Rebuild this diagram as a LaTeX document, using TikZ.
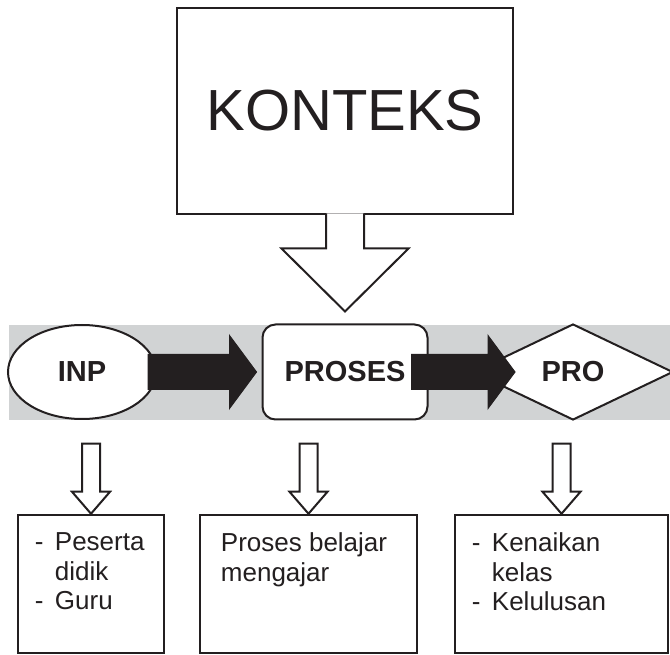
\documentclass[tikz,border=0pt]{standalone}
\usepackage{fontspec}
\setmainfont{Liberation Sans}
\usetikzlibrary{positioning,calc,shapes.geometric}

\definecolor{bandgray}{RGB}{209,211,212}
\definecolor{ink}{RGB}{35,31,32}

\newcommand{\downblock}[6][]{%
  \filldraw[#1] ($(#2)+(-#4,0)$) -- ($(#3)+(-#4,#6)$) -- ($(#3)+(-#5,#6)$) -- (#3)
    -- ($(#3)+(#5,#6)$) -- ($(#3)+(#4,#6)$) -- ($(#2)+(#4,0)$) -- cycle;
}
\newcommand{\rightblock}[6][]{%
  \filldraw[#1] ($(#2)+(0,#4)$) -- ($(#3)+(-#6,#4)$) -- ($(#3)+(-#6,#5)$) -- (#3)
    -- ($(#3)+(-#6,-#5)$) -- ($(#3)+(-#6,-#4)$) -- ($(#2)+(0,-#4)$) -- cycle;
}

\begin{document}
\begin{tikzpicture}[x=1pt,y=1pt,line join=miter]
    \tikzstyle{kbox}=[draw=ink, fill=white, line width=2pt, minimum width=336pt, minimum height=206pt, inner sep=0pt]
    \tikzstyle{fnode}=[draw=ink, fill=white, line width=2pt, inner sep=0pt, font=\fontsize{29pt}{34pt}\selectfont\bfseries, text=ink]
    \tikzstyle{lbox}=[draw=ink, fill=white, line width=2.5pt, minimum height=138pt, inner sep=0pt]
    \tikzstyle{ltext}=[inner sep=0pt, align=left, text=ink, font=\fontsize{26pt}{29.5pt}\selectfont]
    \tikzstyle{barr}=[draw=ink, fill=ink, line width=1pt]
    \tikzstyle{warr}=[draw=ink, fill=white, line width=2pt]

    \useasboundingbox (0,0) rectangle (670,654);
    \clip (0,0) rectangle (670,654);

    \fill[bandgray] (9,234) rectangle (670,329);

    \node[fnode, ellipse, minimum width=148pt, minimum height=94pt] (inp) at (82,282) {INP};
    \node[fnode, rectangle, rounded corners=13pt, minimum width=165pt, minimum height=95pt] (proses) at (345,282) {PROSES};
    \node[fnode, diamond, minimum width=200pt, minimum height=96pt] (pro) at (573,282) {PRO};
    \node[kbox, font=\fontsize{58pt}{60pt}\selectfont, text=ink] (konteks) at (345,543) {KONTEKS};

    \coordinate (ktip) at ($(proses.north)+(0,12)$);
    \filldraw[warr] ($(konteks.south)+(-19,1.5)$) -- ($(ktip)+(-19,63)$) -- ($(ktip)+(-63.5,63)$) -- (ktip)
        -- ($(ktip)+(63.5,63)$) -- ($(ktip)+(19,63)$) -- ($(konteks.south)+(19,1.5)$);

    \rightblock[barr]{$(inp.east)+(-9,0)$}{$(proses.west)+(-5,0)$}{17.5}{36.5}{27}
    \rightblock[barr]{$(proses.east)+(-17,0)$}{$(pro.center)+(-58,0)$}{17.5}{36.5}{27}

    \node[lbox, minimum width=146pt] (box1) at (91,70) {};
    \node[lbox, minimum width=217pt] (box2) at (308.5,70) {};
    \node[lbox, minimum width=213pt] (box3) at (561.5,70) {};

    \foreach \b in {1,2,3}
        \coordinate (top\b) at ($(box\b.north)+(0,70)$);
    \downblock[warr]{top1}{box1.north}{9}{19}{22}
    \downblock[warr]{top2}{box2.north}{9}{19}{22}
    \downblock[warr]{top3}{box3.north}{9}{19}{22}

    \node[ltext, below right=19pt and 18pt of box1.north west] (t1)
        {\makebox[20pt][l]{-}Peserta\\\hspace*{20pt}didik\\\makebox[20pt][l]{-}Guru};
    \node[ltext, below right=19pt and 22pt of box2.north west] (t2)
        {Proses belajar\\mengajar};
    \node[ltext, below right=19pt and 18pt of box3.north west] (t3)
        {\makebox[20pt][l]{-}Kenaikan\\\hspace*{20pt}kelas\\\makebox[20pt][l]{-}Kelulusan};

\end{tikzpicture}
\end{document}
